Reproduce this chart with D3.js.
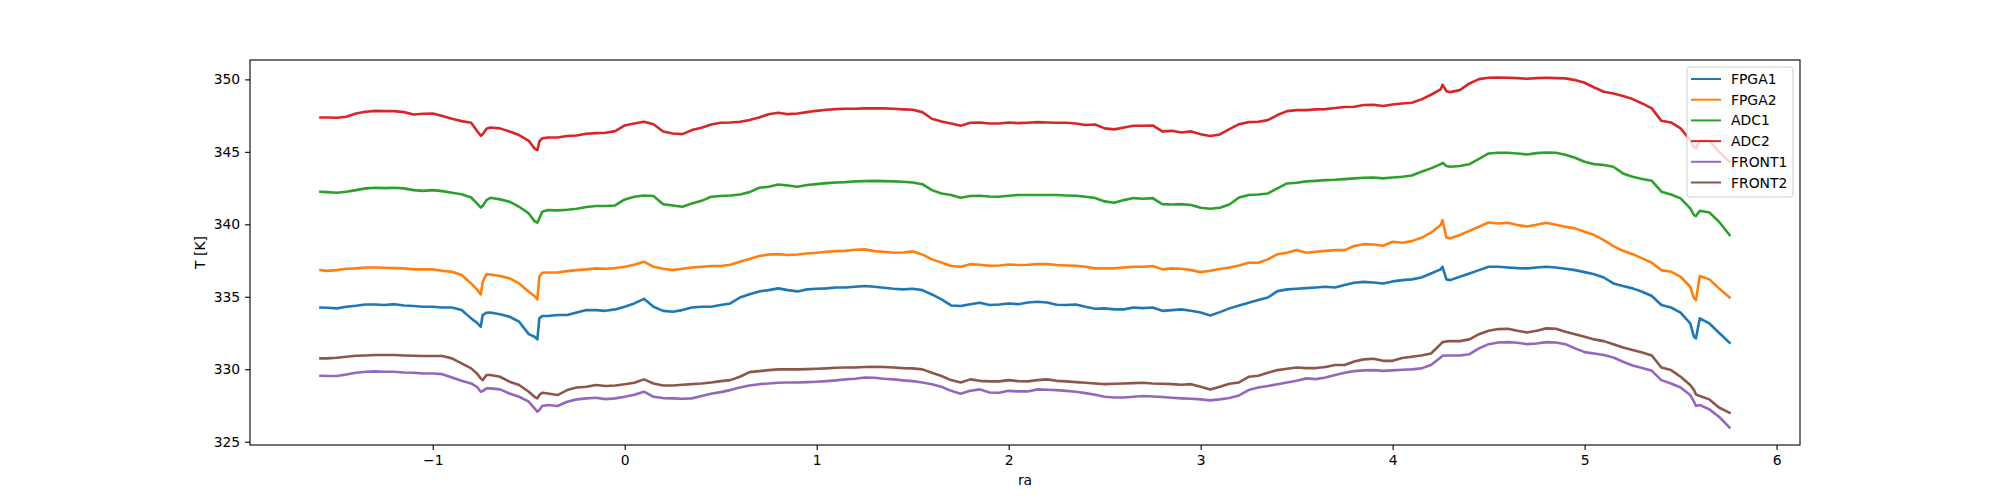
<!DOCTYPE html>
<html>
<head>
<meta charset="utf-8">
<script src="https://cdn.jsdelivr.net/npm/d3@7"></script>
<style>
  html, body { margin: 0; padding: 0; background: #fff; }
  svg text { font-family: "DejaVu Sans", sans-serif; }
</style>
</head>
<body>
<svg id="chart" width="2000" height="500"></svg>
<script>
const ra = [-1.585, -1.55, -1.5, -1.45, -1.4, -1.35, -1.3, -1.25, -1.2, -1.15, -1.1, -1.05, -1.0, -0.95, -0.9, -0.85, -0.8, -0.77, -0.75, -0.74, -0.72, -0.7, -0.65, -0.6, -0.55, -0.5, -0.47, -0.455, -0.445, -0.43, -0.4, -0.35, -0.3, -0.25, -0.2, -0.15,
  -0.1, -0.05, 0, 0.05, 0.1, 0.15, 0.2, 0.25, 0.3, 0.35, 0.4, 0.45, 0.5, 0.55, 0.6, 0.65, 0.7, 0.75, 0.8, 0.85, 0.9, 0.95, 1.0, 1.05, 1.1, 1.15, 1.2, 1.25, 1.3,
  1.35, 1.4, 1.45, 1.5, 1.55, 1.6, 1.65, 1.7, 1.75, 1.8, 1.85, 1.9, 1.95, 2.0, 2.05, 2.1, 2.15, 2.2, 2.25, 2.3, 2.35, 2.4, 2.45, 2.5, 2.55, 2.6, 2.65, 2.7, 2.75,
  2.8, 2.85, 2.9, 2.95, 3.0, 3.05, 3.1, 3.15, 3.2, 3.25, 3.3, 3.35, 3.4, 3.45, 3.5, 3.55, 3.6, 3.65, 3.7, 3.75, 3.8, 3.85, 3.9, 3.95, 4.0, 4.05, 4.1, 4.15, 4.2,
  4.25, 4.26, 4.28, 4.3, 4.35, 4.4, 4.45, 4.5, 4.55, 4.6, 4.65, 4.7, 4.75, 4.8, 4.85, 4.9, 4.95, 5.0, 5.05, 5.1, 5.15, 5.2, 5.25, 5.3, 5.35, 5.4, 5.45, 5.5, 5.55, 5.57, 5.58, 5.6, 5.65, 5.7, 5.755];

const FPGA1 = [334.26, 334.24, 334.20, 334.31, 334.38, 334.47, 334.47, 334.43, 334.49, 334.40, 334.36, 334.31, 334.31, 334.26, 334.26, 334.08, 333.51, 333.21, 332.93, 333.74, 333.90, 333.92, 333.80, 333.62, 333.28, 332.42, 332.24, 332.06, 333.51, 333.67, 333.67, 333.74, 333.74, 333.92, 334.08, 334.08,
  334.03, 334.13, 334.31, 334.54, 334.86, 334.31, 334.03, 333.97, 334.08, 334.26, 334.31, 334.31, 334.43, 334.54, 334.95, 335.18, 335.37, 335.46, 335.58, 335.46, 335.37, 335.51, 335.55, 335.58, 335.64, 335.64, 335.69, 335.74, 335.69,
  335.62, 335.55, 335.51, 335.55, 335.46, 335.16, 334.82, 334.40, 334.36, 334.49, 334.59, 334.43, 334.47, 334.54, 334.49, 334.61, 334.66, 334.61, 334.45, 334.43, 334.47, 334.31, 334.17, 334.20, 334.13, 334.13, 334.26, 334.22, 334.26,
  334.03, 334.08, 334.13, 334.03, 333.92, 333.71, 333.94, 334.20, 334.40, 334.59, 334.77, 334.95, 335.39, 335.51, 335.55, 335.60, 335.64, 335.69, 335.64, 335.81, 335.97, 336.03, 335.99, 335.92, 336.06, 336.15, 336.20, 336.33, 336.61,
  336.89, 337.07, 336.20, 336.15, 336.38, 336.61, 336.84, 337.07, 337.07, 337.02, 336.98, 336.96, 337.02, 337.07, 337.02, 336.93, 336.84, 336.70, 336.56, 336.33, 335.92, 335.74, 335.58, 335.35, 335.05, 334.43, 334.26, 333.90, 333.16, 332.24, 332.13, 333.51, 333.16, 332.52, 331.83];

const FPGA2 = [336.84, 336.79, 336.84, 336.93, 336.96, 337.02, 337.02, 337.00, 336.98, 336.96, 336.89, 336.89, 336.89, 336.79, 336.73, 336.50, 335.92, 335.51, 335.16, 336.03, 336.56, 336.54, 336.43, 336.27, 335.92, 335.35, 335.05, 334.82, 336.38, 336.66, 336.68, 336.68, 336.77, 336.84, 336.89, 336.96,
  336.93, 336.98, 337.07, 337.21, 337.42, 337.07, 336.93, 336.84, 336.93, 337.02, 337.07, 337.12, 337.12, 337.21, 337.42, 337.60, 337.81, 337.92, 337.94, 337.88, 337.92, 337.99, 338.04, 338.11, 338.15, 338.17, 338.24, 338.27, 338.15,
  338.11, 338.04, 338.06, 338.13, 337.92, 337.58, 337.37, 337.12, 337.07, 337.25, 337.21, 337.14, 337.16, 337.23, 337.19, 337.21, 337.25, 337.25, 337.19, 337.16, 337.14, 337.07, 336.96, 336.96, 336.96, 337.02, 337.07, 337.07, 337.12,
  336.89, 336.96, 336.93, 336.84, 336.70, 336.79, 336.91, 337.02, 337.16, 337.35, 337.35, 337.58, 337.94, 338.04, 338.22, 338.04, 338.11, 338.17, 338.22, 338.22, 338.50, 338.63, 338.61, 338.52, 338.80, 338.73, 338.84, 339.07, 339.42,
  339.95, 340.29, 339.09, 339.03, 339.26, 339.55, 339.83, 340.13, 340.06, 340.11, 339.95, 339.85, 339.97, 340.11, 339.97, 339.83, 339.72, 339.49, 339.26, 338.91, 338.50, 338.17, 337.94, 337.65, 337.35, 336.84, 336.73, 336.38, 335.69, 334.89, 334.77, 336.43, 336.20, 335.58, 334.95];

const ADC1 = [342.25, 342.22, 342.18, 342.25, 342.36, 342.48, 342.52, 342.50, 342.52, 342.48, 342.36, 342.31, 342.36, 342.29, 342.18, 342.08, 341.85, 341.44, 341.16, 341.26, 341.67, 341.83, 341.72, 341.56, 341.21, 340.75, 340.22, 340.11, 340.41, 340.87, 340.98, 340.96, 341.00, 341.07, 341.19, 341.26,
  341.26, 341.30, 341.72, 341.90, 341.99, 341.95, 341.39, 341.30, 341.21, 341.44, 341.62, 341.90, 341.95, 341.99, 342.06, 342.22, 342.52, 342.59, 342.75, 342.68, 342.59, 342.71, 342.77, 342.84, 342.89, 342.91, 342.96, 342.98, 343.00,
  342.98, 342.96, 342.94, 342.89, 342.77, 342.36, 342.13, 342.02, 341.83, 341.95, 341.97, 341.92, 341.90, 341.97, 342.02, 342.02, 342.02, 342.02, 342.02, 341.99, 341.97, 341.90, 341.81, 341.58, 341.49, 341.67, 341.81, 341.76, 341.81,
  341.39, 341.37, 341.39, 341.33, 341.14, 341.07, 341.14, 341.37, 341.85, 342.02, 342.06, 342.13, 342.48, 342.82, 342.87, 342.96, 343.00, 343.05, 343.07, 343.12, 343.17, 343.21, 343.23, 343.17, 343.23, 343.28, 343.37, 343.63, 343.86,
  344.15, 344.25, 344.02, 343.97, 344.02, 344.15, 344.52, 344.89, 344.94, 344.94, 344.89, 344.82, 344.91, 344.96, 344.94, 344.80, 344.59, 344.32, 344.15, 344.09, 343.97, 343.51, 343.28, 343.12, 343.00, 342.25, 342.06, 341.79, 341.10, 340.64, 340.57, 340.93, 340.82, 340.18, 339.26];

const ADC2 = [347.37, 347.37, 347.35, 347.42, 347.65, 347.77, 347.83, 347.81, 347.81, 347.74, 347.58, 347.63, 347.65, 347.47, 347.28, 347.12, 347.01, 346.45, 346.11, 346.22, 346.59, 346.68, 346.62, 346.41, 346.16, 345.76, 345.24, 345.12, 345.70, 345.93, 345.99, 345.99, 346.09, 346.13, 346.25, 346.29,
  346.32, 346.43, 346.82, 346.96, 347.08, 346.91, 346.41, 346.27, 346.22, 346.50, 346.66, 346.89, 347.01, 347.03, 347.08, 347.19, 347.37, 347.60, 347.70, 347.60, 347.65, 347.74, 347.83, 347.90, 347.95, 347.97, 347.97, 348.00, 348.00,
  348.00, 347.97, 347.93, 347.90, 347.74, 347.28, 347.10, 346.96, 346.80, 347.01, 347.03, 346.96, 346.96, 347.03, 346.98, 347.01, 347.05, 347.03, 347.01, 347.01, 346.96, 346.85, 346.89, 346.62, 346.55, 346.68, 346.80, 346.80, 346.82,
  346.41, 346.45, 346.34, 346.41, 346.22, 346.09, 346.20, 346.57, 346.91, 347.05, 347.08, 347.19, 347.54, 347.81, 347.88, 347.88, 347.93, 347.95, 348.02, 348.09, 348.11, 348.23, 348.25, 348.16, 348.27, 348.34, 348.39, 348.62, 348.94,
  349.31, 349.63, 349.19, 349.12, 349.26, 349.72, 350.02, 350.11, 350.13, 350.11, 350.09, 350.04, 350.09, 350.11, 350.09, 350.07, 349.95, 349.77, 349.44, 349.15, 349.03, 348.85, 348.64, 348.34, 348.00, 347.14, 347.03, 346.62, 345.81, 345.30, 345.24, 345.76, 345.76, 345.01, 344.32];

const FRONT1 = [329.55, 329.53, 329.53, 329.64, 329.76, 329.83, 329.85, 329.83, 329.83, 329.78, 329.76, 329.71, 329.71, 329.66, 329.43, 329.20, 329.02, 328.79, 328.45, 328.49, 328.68, 328.68, 328.61, 328.33, 328.10, 327.76, 327.30, 327.07, 327.18, 327.46, 327.53, 327.46, 327.76, 327.92, 327.99, 328.03,
  327.94, 327.99, 328.10, 328.24, 328.45, 328.10, 328.01, 327.99, 327.96, 327.99, 328.15, 328.31, 328.42, 328.56, 328.74, 328.88, 328.97, 329.02, 329.07, 329.09, 329.09, 329.11, 329.14, 329.18, 329.23, 329.30, 329.34, 329.43, 329.41,
  329.34, 329.30, 329.23, 329.18, 329.09, 328.97, 328.79, 328.51, 328.31, 328.51, 328.61, 328.40, 328.38, 328.51, 328.47, 328.47, 328.61, 328.58, 328.56, 328.51, 328.45, 328.35, 328.24, 328.10, 328.05, 328.05, 328.10, 328.15, 328.12,
  328.08, 328.03, 327.99, 327.96, 327.92, 327.85, 327.92, 328.01, 328.19, 328.56, 328.74, 328.84, 328.97, 329.09, 329.20, 329.37, 329.32, 329.43, 329.60, 329.76, 329.87, 329.92, 329.94, 329.89, 329.92, 329.96, 329.99, 330.06, 330.29,
  330.81, 330.93, 330.95, 330.95, 330.95, 331.04, 331.44, 331.73, 331.85, 331.87, 331.83, 331.73, 331.78, 331.87, 331.85, 331.73, 331.44, 331.18, 331.09, 330.98, 330.81, 330.52, 330.26, 330.08, 329.89, 329.25, 329.02, 328.74, 328.22, 327.76, 327.46, 327.53, 327.23, 326.72, 325.98];

const FRONT2 = [330.75, 330.75, 330.79, 330.86, 330.93, 330.95, 330.98, 330.98, 330.98, 330.95, 330.93, 330.91, 330.91, 330.91, 330.75, 330.40, 330.06, 329.71, 329.37, 329.25, 329.60, 329.60, 329.48, 329.14, 328.91, 328.45, 328.10, 327.99, 328.22, 328.38, 328.33, 328.22, 328.56, 328.74, 328.79, 328.91,
  328.84, 328.88, 328.97, 329.07, 329.30, 329.02, 328.88, 328.88, 328.93, 328.97, 329.02, 329.09, 329.18, 329.25, 329.48, 329.80, 329.87, 329.94, 329.99, 329.99, 329.99, 330.01, 330.03, 330.06, 330.10, 330.12, 330.12, 330.15, 330.17,
  330.15, 330.12, 330.08, 330.06, 329.99, 329.76, 329.53, 329.25, 329.09, 329.30, 329.20, 329.16, 329.16, 329.25, 329.18, 329.16, 329.25, 329.30, 329.20, 329.16, 329.11, 329.07, 329.02, 328.97, 329.00, 329.02, 329.04, 329.07, 329.02,
  329.00, 328.97, 328.93, 328.97, 328.79, 328.61, 328.79, 329.00, 329.09, 329.48, 329.55, 329.76, 329.94, 330.03, 330.12, 330.08, 330.08, 330.15, 330.29, 330.29, 330.54, 330.68, 330.72, 330.58, 330.58, 330.77, 330.86, 330.95, 331.09,
  331.73, 331.87, 331.92, 331.94, 331.94, 332.06, 332.42, 332.65, 332.77, 332.79, 332.65, 332.54, 332.65, 332.82, 332.79, 332.59, 332.42, 332.24, 332.06, 331.94, 331.73, 331.50, 331.32, 331.16, 330.95, 330.12, 329.94, 329.48, 328.91, 328.56, 328.26, 328.15, 327.92, 327.36, 327.00];

const seriesNames = ["FPGA1", "FPGA2", "ADC1", "ADC2", "FRONT1", "FRONT2"];
const seriesValues = [FPGA1, FPGA2, ADC1, ADC2, FRONT1, FRONT2];
const seriesColors = ["#1f77b4", "#ff7f0e", "#2ca02c", "#d62728", "#9467bd", "#8c564b"];
const xTicks = [-1, 0, 1, 2, 3, 4, 5, 6];
const yTicks = [325, 330, 335, 340, 345, 350];
const xLabel = "ra";
const yLabel = "T [K]";

const W = 2000, H = 500;
const m = { left: 250, right: 200, top: 60, bottom: 55 };
const svg = d3.select("#chart");

// matplotlib-like 5% margins around data
const xExt = d3.extent(ra);
const xPad = (xExt[1] - xExt[0]) * 0.05;
const allY = seriesValues.flat();
const yExt = d3.extent(allY);
const yPad = (yExt[1] - yExt[0]) * 0.05;

const x = d3.scaleLinear().domain([xExt[0] - xPad, xExt[1] + xPad]).range([m.left, W - m.right]);
const y = d3.scaleLinear().domain([yExt[0] - yPad, yExt[1] + yPad]).range([H - m.bottom, m.top]);

svg.append("defs").append("clipPath").attr("id", "clip")
  .append("rect").attr("x", m.left).attr("y", m.top)
  .attr("width", W - m.left - m.right).attr("height", H - m.top - m.bottom);

const plot = svg.append("g").attr("clip-path", "url(#clip)");
seriesValues.forEach((vals, si) => {
  const line = d3.line().x((d, i) => x(ra[i])).y(d => y(d));
  plot.append("path")
    .attr("d", line(vals))
    .attr("fill", "none")
    .attr("stroke", seriesColors[si])
    .attr("stroke-width", 2.6)
    .attr("stroke-linejoin", "round")
    .attr("stroke-linecap", "square");
});

const fs = "13.9px";
const xAxis = d3.axisBottom(x).tickValues(xTicks).tickSize(4.9).tickPadding(4.9).tickFormat(d3.format("d"));
const yAxis = d3.axisLeft(y).tickValues(yTicks).tickSize(4.9).tickPadding(4.9).tickFormat(d3.format("d"));

const gx = svg.append("g").attr("transform", `translate(0,${H - m.bottom})`).call(xAxis);
const gy = svg.append("g").attr("transform", `translate(${m.left},0)`).call(yAxis);
[gx, gy].forEach(g => {
  g.select(".domain").remove();
  g.selectAll(".tick line").attr("stroke", "#000").attr("stroke-width", 1.1);
  g.selectAll(".tick text").attr("fill", "#000").style("font-size", fs).style("font-family", "DejaVu Sans");
});

// spines
svg.append("rect").attr("x", m.left).attr("y", m.top)
  .attr("width", W - m.left - m.right).attr("height", H - m.top - m.bottom)
  .attr("fill", "none").attr("stroke", "#000").attr("stroke-width", 1.1);

svg.append("text").attr("x", (m.left + W - m.right) / 2).attr("y", 485)
  .attr("text-anchor", "middle").style("font-size", fs).text(xLabel);
svg.append("text").attr("transform", `translate(205,${(m.top + H - m.bottom) / 2}) rotate(-90)`)
  .attr("text-anchor", "middle").style("font-size", fs).text(yLabel);

// legend
const lg = svg.append("g");
lg.append("rect").attr("x", 1687).attr("y", 67).attr("width", 106).attr("height", 130)
  .attr("rx", 3).attr("fill", "#fff").attr("fill-opacity", 0.8)
  .attr("stroke", "#cccccc").attr("stroke-width", 1);
seriesNames.forEach((name, i) => {
  const yy = 79 + i * 20.7;
  lg.append("line").attr("x1", 1691).attr("x2", 1721).attr("y1", yy).attr("y2", yy)
    .attr("stroke", seriesColors[i]).attr("stroke-width", 2);
  lg.append("text").attr("x", 1731).attr("y", yy + 5).style("font-size", fs).text(name);
});
</script>
</body>
</html>
